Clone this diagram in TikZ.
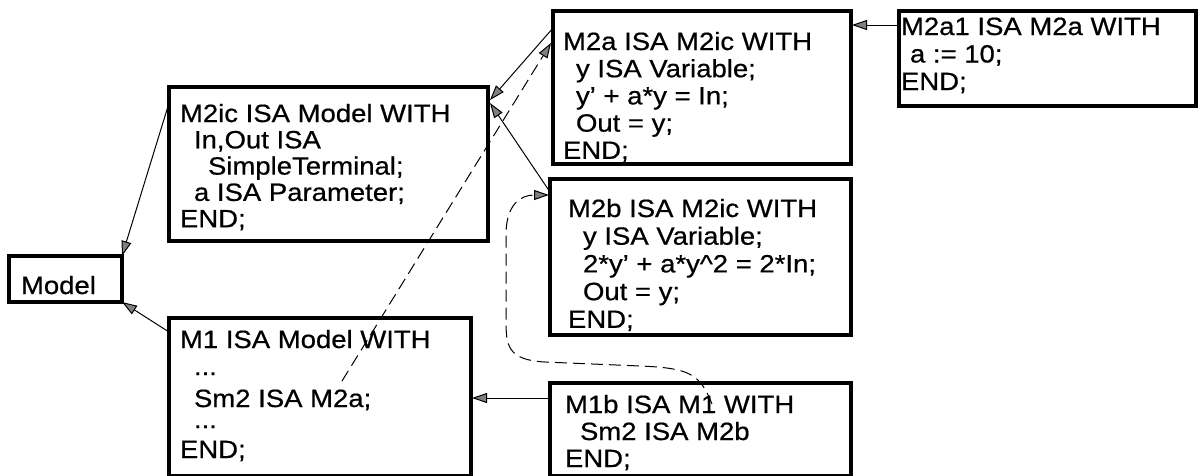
\documentclass[tikz,border=0pt]{standalone}
\usepackage{fontspec}
\setmainfont{Liberation Sans}[FakeStretch=1.1,FakeBold=0.6]
\usetikzlibrary{arrows.meta,calc}
\begin{document}
\begin{tikzpicture}[x=1pt,y=-1pt,
  box/.style={draw, line width=3.4pt, rectangle, anchor=north west, inner sep=0pt, outer sep=0pt},
  txt/.style={anchor=base west, inner sep=0pt, outer sep=0pt, font=\fontsize{25}{#1}\selectfont},
  txt/.default=27.3,
  arr/.style={line width=1pt, -{Triangle[length=15pt,width=10pt,fill=black!50]}},
  darr/.style={arr, dash pattern=on 12pt off 6pt}]
\useasboundingbox (0,0) rectangle (1199,475);
% boxes
\node[box, minimum width=113pt, minimum height=46pt] (model) at (9,256) {};
\node[box, minimum width=319pt, minimum height=154pt] (m2ic) at (169,87) {};
\node[box, minimum width=302pt, minimum height=158pt] (m1) at (169,318) {};
\node[box, minimum width=298pt, minimum height=153pt] (m2a) at (553,11) {};
\node[box, minimum width=301pt, minimum height=156pt] (m2b) at (550,179) {};
\node[box, minimum width=301pt, minimum height=93pt] (m1b) at (550,383) {};
\node[box, minimum width=297pt, minimum height=95pt] (m2a1) at (899,11) {};
% texts
\node[txt] (tmodel) at (21,294) {Model};
\node[txt=26.3] (tm2ic) at (180,122) {\begin{tabular}[t]{@{}l@{}}M2ic ISA Model WITH\\\hspace{14pt}In,Out ISA\\\hspace{28pt}SimpleTerminal;\\\hspace{14pt}a ISA Parameter;\\END;\end{tabular}};
\node[txt] (tm1) at (180,348) {\begin{tabular}[t]{@{}l@{}}M1 ISA Model WITH\\[-0.3pt]\hspace{14pt}...\\[4.7pt]\hspace{14pt}Sm2 ISA M2a;\\[-6.3pt]\hspace{14pt}...\\[2.7pt]END;\end{tabular}};
\node[txt=27.2] (tm2a) at (563,50) {\begin{tabular}[t]{@{}l@{}}M2a ISA M2ic WITH\\\hspace{13pt}y ISA Variable;\\\hspace{13pt}y' + a*y = In;\\\hspace{13pt}Out = y;\\END;\end{tabular}};
\node[txt=27.7] (tm2b) at (568,217) {\begin{tabular}[t]{@{}l@{}}M2b ISA M2ic WITH\\\hspace{15pt}y ISA Variable;\\\hspace{15pt}2*y' + a*y\textasciicircum 2 = 2*In;\\\hspace{15pt}Out = y;\\END;\end{tabular}};
\node[txt=27] (tm1b) at (565,413) {\begin{tabular}[t]{@{}l@{}}M1b ISA M1 WITH\\\hspace{15pt}Sm2 ISA M2b\\END;\end{tabular}};
\node[txt=27.5] (tm2a1) at (901,35) {\begin{tabular}[t]{@{}l@{}}M2a1 ISA M2a WITH\\\hspace{9pt}a := 10;\\END;\end{tabular}};
% reference points
\coordinate (sm2ref) at (342,381);
\coordinate (m1ref) at (712,404);
% connectors
\draw[arr] ($(m2ic.north west)+(0,16)$) -- (model.north east);
\draw[arr] ($(m1.north west)+(0,14)$) -- (model.south east);
\draw[arr] ($(m2a.north west)+(0,17)$) -- ($(m2ic.north east)+(2,13)$);
\draw[arr] ($(m2b.north west)+(0,13)$) -- ($(m2ic.north east)+(2,16)$);
\draw[arr] ($(m1b.north west)+(0,15)$) -- ($(m1.north east)+(1,80)$);
\draw[arr] ($(m2a1.north west)+(0,14)$) -- ($(m2a.north east)+(1,14)$);
\draw[darr] (sm2ref) -- ($(m2a.north west)+(-2,32)$);
\draw[darr] (m1ref) .. controls (700,374) and (690,368) .. (640,366) -- (545,362) .. controls (507,360) and (506,345) .. (506,320) -- (506,235) .. controls (506,205) and (520,195) .. ($(m2b.north west)+(-1,16)$);
\end{tikzpicture}
\end{document}
